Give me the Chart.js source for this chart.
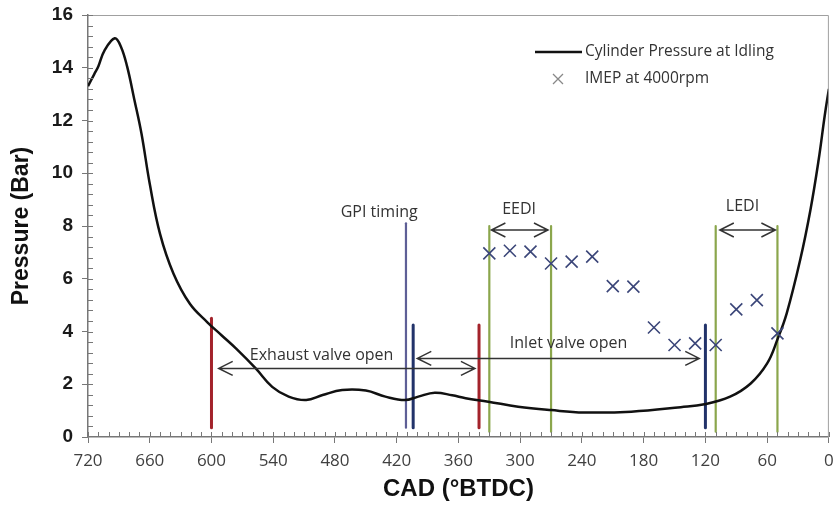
<!DOCTYPE html>
<html>
<head>
<meta charset="utf-8">
<script src="https://cdn.jsdelivr.net/npm/chart.js@4.4.0/dist/chart.umd.min.js"></script>
<style>
  html, body { margin: 0; padding: 0; background: #fff; }
  #wrap { width: 839px; height: 510px; }
</style>
</head>
<body>
<div id="wrap"><canvas id="pressureChart"></canvas></div>
<script>
// cylinder pressure at idling, CAD in deg BTDC
var cadIdle = [720, 714, 710, 704, 694, 688, 682, 675, 668, 660, 650, 637, 621, 604, 590, 576, 557, 541, 525, 508, 492, 473, 450, 431, 412, 399, 383, 366, 353, 331, 302, 270, 238, 192, 144, 121, 96, 76, 60, 50, 41, 28, 18, 10, 4, 0];
var pressureIdle = [13.3, 13.75, 14.05, 14.65, 15.12, 14.8, 14.05, 12.8, 11.5, 9.6, 7.7, 6.2, 5.05, 4.35, 3.85, 3.35, 2.6, 1.9, 1.53, 1.4, 1.59, 1.78, 1.76, 1.53, 1.4, 1.53, 1.68, 1.58, 1.47, 1.34, 1.15, 1.02, 0.93, 0.96, 1.13, 1.24, 1.53, 2.03, 2.79, 3.7, 4.69, 6.7, 8.6, 10.5, 12.2, 13.2];

// IMEP at 4000 rpm vs injection timing
var imepCad = [330, 310, 290, 270, 250, 230, 210, 190, 170, 150, 130, 110, 90, 70, 50];
var imepValues = [6.96, 7.06, 7.03, 6.58, 6.65, 6.84, 5.72, 5.7, 4.15, 3.49, 3.55, 3.49, 4.84, 5.19, 3.93];

// vertical timing markers
var markerCad = [600, 411, 404, 340, 330, 270, 120, 110, 50];
var markerLow = [0.35, 0.35, 0.35, 0.35, 0.2, 0.2, 0.35, 0.2, 0.2];
var markerHigh = [4.5, 8.1, 4.25, 4.25, 8.0, 8.0, 4.25, 8.0, 8.0];
var markerKind = ['exhaust', 'gpi', 'inlet', 'exhaust', 'window', 'window', 'inlet', 'window', 'window'];

// double arrows (from / to in CAD, level in bar)
var arrowFrom = [593, 400, 328, 106];
var arrowTo = [344, 126, 273, 52];
var arrowLevel = [2.6, 2.98, 7.85, 7.85];

// text labels
var labelText = ['GPI timing', 'EEDI', 'LEDI', 'Exhaust valve open', 'Inlet valve open'];
var labelCad = [437, 301, 84, 493, 253];
var labelLevel = [8.5, 8.62, 8.73, 3.1, 3.56];

var xTicks = [720, 660, 600, 540, 480, 420, 360, 300, 240, 180, 120, 60, 0];

var kindStyle = {
    exhaust: { color: '#a3232b', width: 3 },
    gpi: { color: '#5e5f96', width: 2.2 },
    inlet: { color: '#22336a', width: 3 },
    window: { color: '#8ba64c', width: 2.2 }
};

var datasets = [];
datasets.push({
    type: 'scatter',
    label: 'IMEP at 4000rpm',
    data: imepCad.map(function (c, i) { return { x: c, y: imepValues[i] } }),
    pointStyle: 'crossRot',
    pointRadius: 8.5,
    borderWidth: 1.6,
    borderColor: '#3b4679',
    backgroundColor: '#3b4679',
    order: 0
});
datasets.push({
    type: 'line',
    label: 'Cylinder Pressure at Idling',
    data: cadIdle.map(function (c, i) { return { x: c, y: pressureIdle[i] } }),
    borderColor: '#111',
    borderWidth: 2.5,
    pointRadius: 0,
    tension: 0.4,
    order: 1
});
markerCad.forEach(function (c, i) {
    var st = kindStyle[markerKind[i]];
    datasets.push({
        type: 'line',
        label: 'marker' + i,
        data: [{ x: c, y: markerLow[i] }, { x: c, y: markerHigh[i] }],
        borderColor: st.color,
        borderWidth: st.width,
        borderCapStyle: 'round',
        pointRadius: 0,
        order: 2
    });
});

//Draws the frame, minor ticks, arrows, labels and legend
var overlay = {
    id: 'overlay',
    afterDraw: function (chart) {
        var ctx = chart.ctx, xs = chart.scales.x, ys = chart.scales.y, a = chart.chartArea;
        ctx.save();
        ctx.strokeStyle = '#a0a0a0';
        ctx.lineWidth = 1;
        ctx.beginPath();
        ctx.moveTo(a.left, a.top + 0.5);
        ctx.lineTo(a.right - 0.5, a.top + 0.5);
        ctx.lineTo(a.right - 0.5, a.bottom);
        ctx.stroke();

        ctx.strokeStyle = '#777';
        ctx.beginPath();
        for (var v = 0; v <= 720; v += 10) {
            var px = Math.round(xs.getPixelForValue(v)) + 0.5;
            ctx.moveTo(px, a.bottom);
            ctx.lineTo(px, a.bottom - 5);
        }
        for (var i = 1; i <= 40; i++) {
            var py = Math.round(ys.getPixelForValue(i * 0.4)) + 0.5;
            ctx.moveTo(a.left, py);
            ctx.lineTo(a.left + 5, py);
        }
        ctx.stroke();

        ctx.strokeStyle = '#333';
        ctx.lineWidth = 1.5;
        arrowFrom.forEach(function (f, i) {
            var x1 = xs.getPixelForValue(f), x2 = xs.getPixelForValue(arrowTo[i]);
            var y = ys.getPixelForValue(arrowLevel[i]);
            ctx.beginPath();
            ctx.moveTo(x1, y); ctx.lineTo(x2, y);
            ctx.moveTo(x1 + 14, y - 7); ctx.lineTo(x1, y); ctx.lineTo(x1 + 14, y + 7);
            ctx.moveTo(x2 - 14, y - 7); ctx.lineTo(x2, y); ctx.lineTo(x2 - 14, y + 7);
            ctx.stroke();
        });

        ctx.fillStyle = '#333';
        ctx.font = '16px "Open Sans"';
        ctx.textAlign = 'center';
        ctx.textBaseline = 'middle';
        labelText.forEach(function (t, i) {
            ctx.fillText(t, xs.getPixelForValue(labelCad[i]), ys.getPixelForValue(labelLevel[i]));
        });

        // legend
        ctx.textAlign = 'left';
        ctx.font = '15.5px "Open Sans"';
        ctx.strokeStyle = '#111';
        ctx.lineWidth = 2.5;
        ctx.beginPath(); ctx.moveTo(535, 52); ctx.lineTo(582, 52); ctx.stroke();
        ctx.fillText('Cylinder Pressure at Idling', 585, 52);
        ctx.strokeStyle = '#888';
        ctx.lineWidth = 1.3;
        ctx.beginPath();
        ctx.moveTo(553, 74); ctx.lineTo(563, 84);
        ctx.moveTo(563, 74); ctx.lineTo(553, 84);
        ctx.stroke();
        ctx.fillText('IMEP at 4000rpm', 585, 79);
        ctx.restore();
    }
};

var ctxChart = document.getElementById('pressureChart').getContext('2d');
var pressureChart = new Chart(ctxChart, {
    data: { datasets: datasets },
    options: {
        responsive: true,
        maintainAspectRatio: false,
        animation: false,
        layout: { padding: { top: 15, right: 7, bottom: 0, left: 0 } },
        plugins: {
            legend: { display: false },
            tooltip: { enabled: false }
        },
        scales: {
            x: {
                type: 'linear',
                reverse: true,
                min: 0,
                max: 720,
                afterFit: function (s) { s.height = 73; s.paddingLeft = 0; s.paddingRight = 0 },
                afterBuildTicks: function (s) { s.ticks = xTicks.map(function (v) { return { value: v } }) },
                grid: { drawOnChartArea: false, drawTicks: true, tickLength: 6, color: '#777' },
                border: { color: '#777', width: 1.5 },
                ticks: { padding: 8, color: '#404040', font: { family: 'Open Sans', size: 17 } },
                title: {
                    display: true,
                    text: 'CAD (°BTDC)',
                    color: '#111',
                    padding: { top: 0, bottom: 6 },
                    font: { family: 'Liberation Sans', size: 24, weight: 'bold' }
                }
            },
            y: {
                min: 0,
                max: 16,
                afterFit: function (s) { s.width = 88; s.paddingTop = 0; s.paddingBottom = 0 },
                grid: { drawOnChartArea: false, drawTicks: true, tickLength: 6, color: '#777' },
                border: { color: '#777', width: 1.5 },
                ticks: { stepSize: 2, padding: 9, color: '#1a1a1a', font: { family: 'Liberation Sans', size: 19, weight: 'bold' } },
                title: {
                    display: true,
                    text: 'Pressure (Bar)',
                    color: '#111',
                    padding: { top: 8, bottom: 0 },
                    font: { family: 'Liberation Sans', size: 23, weight: 'bold' }
                }
            }
        }
    },
    plugins: [overlay]
});
</script>
</body>
</html>
